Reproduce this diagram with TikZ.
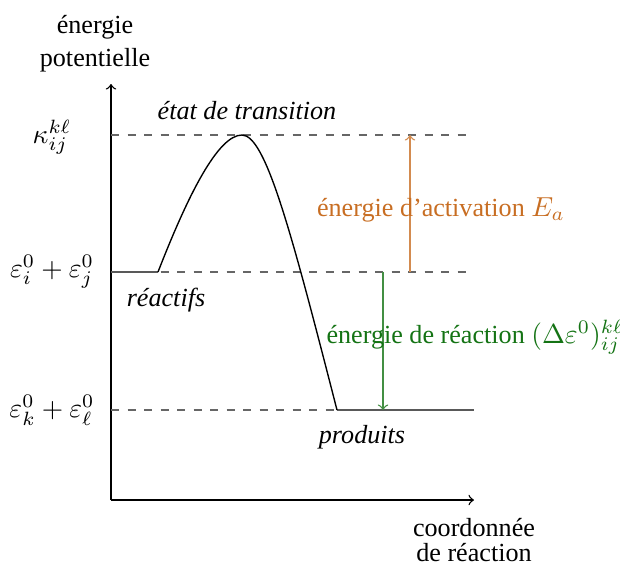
\documentclass[tikz,border=0pt]{standalone}
\usepackage{fontspec}
\setmainfont{Liberation Serif}[Scale=0.95]
\definecolor{actcol}{RGB}{200,110,35}
\definecolor{reacol}{RGB}{20,115,20}
\begin{document}
\begin{tikzpicture}[x=0.3636pt,y=-0.3636pt,
  axis/.style={->,>=to,black,line width=0.5pt},
  level/.style={dashed,gray!80!black,line width=0.5pt},
  solidlevel/.style={gray!70!black,line width=0.6pt},
  lbl/.style={inner sep=1pt,align=center},
  every node/.style={font=\fontsize{10}{12}\selectfont}]
\useasboundingbox (0,0) rectangle (620,565);
% axes
\coordinate (O) at (111,500);
\coordinate (ytop) at (111,84);
\coordinate (xend) at (474,500);
\draw[axis] (O) -- (ytop);
\draw[axis] (O) -- (xend);
\node[lbl] (ylab) at (95,44) {énergie\\potentielle};
\node[lbl] (xlab) at (474,540) {coordonnée\\[-3pt]de réaction};
% levels
\coordinate (tsL) at (111,135); \coordinate (tsR) at (472,135);
\coordinate (reL) at (111,272); \coordinate (reR) at (472,272);
\coordinate (prL) at (111,410); \coordinate (prR) at (474,410);
\draw[level] (tsL) -- (tsR);
\draw[level] (reL) -- (reR);
\draw[level] (prL) -- (prR);
\coordinate (reS) at (158,272);
\coordinate (peak) at (242,135);
\coordinate (prS) at (337,410);
\draw[solidlevel] (reL) -- (reS);
\draw[solidlevel] (prS) -- (prR);
\draw[black,line width=0.5pt] (reS) .. controls (188,195) and (218,135) .. (peak)
  .. controls (266,135) and (292,235) .. (prS);
% y labels
\node (kap) at (52,137) {$\kappa_{ij}^{k\ell}$};
\node (eij) at (52,272) {$\varepsilon_i^0+\varepsilon_j^0$};
\node (ekl) at (52,410) {$\varepsilon_k^0+\varepsilon_\ell^0$};
% state labels
\node (ts) at (247,111) {\itshape état de transition};
\node (rea) at (166,300) {\itshape réactifs};
\node (pro) at (362,437) {\itshape produits};
% arrows
\coordinate (aB) at (410,272); \coordinate (aT) at (410,135);
\coordinate (gT) at (383,272); \coordinate (gB) at (383,410);
\draw[->,>=to,actcol!80,line width=0.5pt] (aB) -- (aT);
\draw[->,>=to,reacol!80,line width=0.5pt] (gT) -- (gB);
\node[text=actcol] (act) at (441,210) {énergie d’activation $E_a$};
\node[text=reacol,anchor=west,inner sep=0pt] (rxn) at (326,337) {énergie de réaction $(\Delta\varepsilon^0)_{ij}^{k\ell}$};
\end{tikzpicture}
\end{document}
